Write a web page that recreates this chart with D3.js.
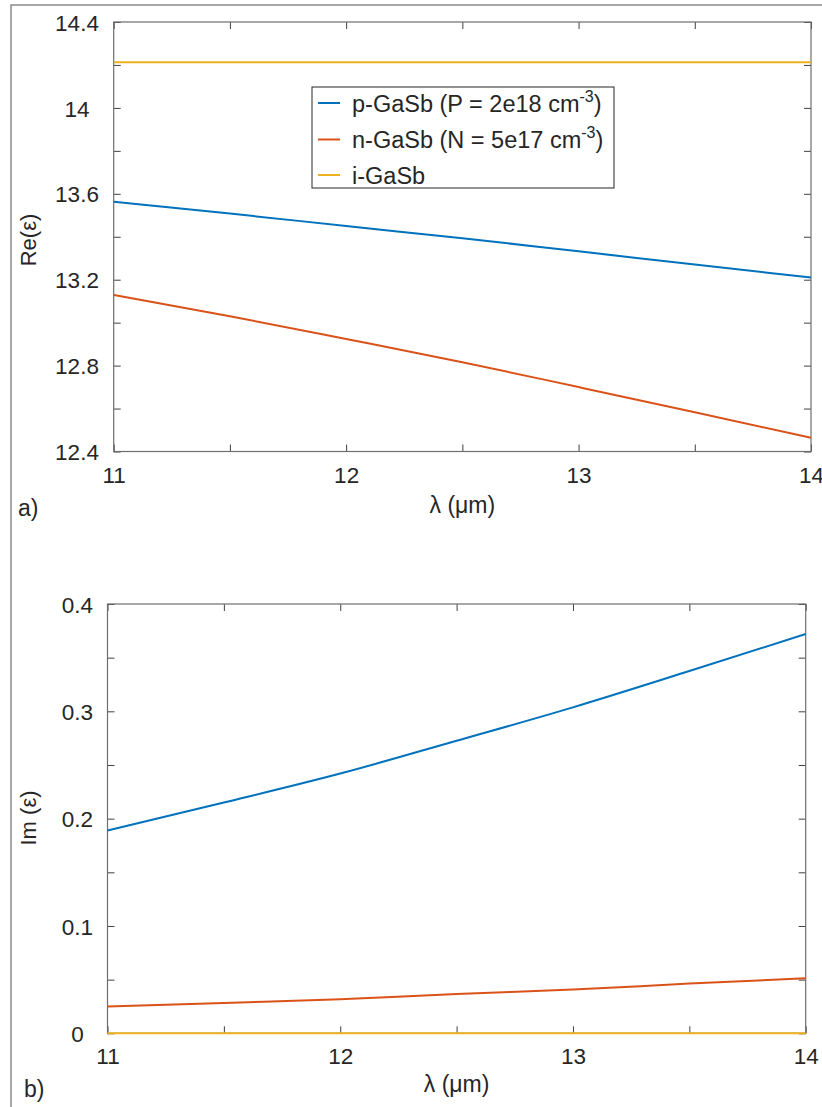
<!DOCTYPE html>
<html>
<head>
<meta charset="utf-8">
<script src="https://cdn.jsdelivr.net/npm/d3@7"></script>
<style>
  html, body { margin: 0; padding: 0; background: #fff; }
  svg { display: block; }
  text { font-family: "Liberation Sans", Arial, Helvetica, sans-serif; fill: #262626; }
</style>
</head>
<body>
<svg id="chart" width="822" height="1107"></svg>
<script>
// ---- data ----
const wavelength = [11, 11.5, 12, 12.5, 13, 13.5, 14];
const seriesNames = ["p-GaSb (P = 2e18 cm", "n-GaSb (N = 5e17 cm", "i-GaSb"];
const seriesColors = ["#0072BD", "#D95319", "#EDB120"];
const reP = [13.563, 13.508, 13.450, 13.393, 13.332, 13.271, 13.210];
const reN = [13.129, 13.030, 12.924, 12.816, 12.700, 12.583, 12.464];
const reI = [14.213, 14.213, 14.213, 14.213, 14.213, 14.213, 14.213];
const imP = [0.189, 0.215, 0.242, 0.2726, 0.3037, 0.3375, 0.372];
const imN = [0.0249, 0.0283, 0.0317, 0.0367, 0.0407, 0.0463, 0.0513];
const imI = [0, 0, 0, 0, 0, 0, 0];
const xTicks = [11, 11.5, 12, 12.5, 13, 13.5, 14];
const xLabels = [11, 12, 13, 14];
const reTicks = [12.4, 12.6, 12.8, 13.0, 13.2, 13.4, 13.6, 13.8, 14.0, 14.2, 14.4];
const reLabels = [12.4, 12.8, 13.2, 13.6, 14.0, 14.4];
const imTicks = [0, 0.05, 0.1, 0.15, 0.2, 0.25, 0.3, 0.35, 0.4];
const imLabels = [0, 0.1, 0.2, 0.3, 0.4];

const svg = d3.select("#chart");

// outer frame
svg.append("path").attr("d", "M11,1107 L11,5 L822,5")
  .attr("fill", "none").attr("stroke", "#8a8a8a").attr("stroke-width", 1.5);

function isLabel(v, labels) { return labels.some(l => Math.abs(l - v) < 1e-9); }

function panel(cfg) {
  const x = d3.scaleLinear().domain([11, 14]).range([cfg.left, cfg.right]);
  const y = d3.scaleLinear().domain(cfg.ydom).range([cfg.bottom, cfg.top]);
  const g = svg.append("g");

  const ax = g.append("g").attr("transform", `translate(0,${cfg.bottom})`)
    .call(d3.axisBottom(x).tickValues(xTicks).tickSize(-7).tickSizeOuter(0).tickPadding(cfg.xpad)
      .tickFormat(v => isLabel(v, xLabels) ? d3.format("d")(v) : ""));
  const axT = g.append("g").attr("transform", `translate(0,${cfg.top})`)
    .call(d3.axisTop(x).tickValues(xTicks).tickSize(-7).tickSizeOuter(0).tickFormat(""));
  const ay = g.append("g").attr("transform", `translate(${cfg.left},0)`)
    .call(d3.axisLeft(y).tickValues(cfg.yticks).tickSize(-7).tickSizeOuter(0)
      .tickFormat(v => isLabel(v, cfg.ylabels) ? cfg.yfmt(v) : ""));
  const ayR = g.append("g").attr("transform", `translate(${cfg.right},0)`)
    .call(d3.axisRight(y).tickValues(cfg.yticks).tickSize(-7).tickSizeOuter(0).tickFormat(""));

  [ax, axT, ay, ayR].forEach(a => {
    a.select(".domain").remove();
    a.selectAll(".tick line").attr("stroke", "#404040").attr("stroke-width", 1);
    a.selectAll("text").style("font-size", "22.5px").attr("fill", "#262626")
      .style("font-family", '"Liberation Sans", Arial, sans-serif');
  });
  ay.selectAll("text").attr("text-anchor", "middle").attr("x", cfg.ylabelX - cfg.left).attr("dy", "0.36em");

  g.append("rect").attr("x", cfg.left).attr("y", cfg.top)
    .attr("width", cfg.right - cfg.left).attr("height", cfg.bottom - cfg.top)
    .attr("fill", "none").attr("stroke", "#6e6e6e").attr("stroke-width", 1.2);

  const line = d3.line().x((d, i) => x(wavelength[i])).y(d => y(d)).curve(d3.curveMonotoneX);
  cfg.series.forEach((s, i) => {
    g.append("path").datum(s).attr("d", line)
      .attr("fill", "none").attr("stroke", seriesColors[i]).attr("stroke-width", 2);
  });

  g.append("text").attr("x", (cfg.left + cfg.right) / 2).attr("y", cfg.xtitleY)
    .attr("text-anchor", "middle").style("font-size", "23px").text("λ (μm)");
  g.append("text").attr("transform", `translate(${cfg.ytitleX},${cfg.ytitleY}) rotate(-90)`)
    .attr("text-anchor", "middle").style("font-size", "22px").text(cfg.ytitle);
  g.append("text").attr("x", cfg.tagX).attr("y", cfg.tagY).style("font-size", "23px").text(cfg.tag);
  return { x, y, g };
}

panel({
  left: 113.7, right: 811, top: 22, bottom: 451.5,
  ydom: [12.4, 14.4], yticks: reTicks, ylabels: reLabels,
  yfmt: v => (Math.abs(v - Math.round(v)) < 1e-9 ? d3.format("d")(v) : d3.format(".1f")(v)),
  ylabelX: 77, xpad: 15.5,
  series: [reP, reN, reI],
  xtitleY: 513, ytitleX: 36, ytitleY: 240, ytitle: "Re(ε)",
  tag: "a)", tagX: 18, tagY: 516
});

panel({
  left: 107.5, right: 805.7, top: 604, bottom: 1033.3,
  ydom: [0, 0.4], yticks: imTicks, ylabels: imLabels,
  yfmt: v => (v === 0 ? "0" : d3.format(".1f")(v)),
  ylabelX: 77.5, xpad: 15,
  series: [imP, imN, imI],
  xtitleY: 1092, ytitleX: 36, ytitleY: 818, ytitle: "Im (ε)",
  tag: "b)", tagX: 24, tagY: 1097
});

// legend
const leg = svg.append("g");
leg.append("rect").attr("x", 312).attr("y", 87).attr("width", 302).attr("height", 101)
  .attr("fill", "#fff").attr("stroke", "#262626").attr("stroke-width", 1);
const rowY = [103, 139.5, 175];
seriesNames.forEach((name, i) => {
  leg.append("line").attr("x1", 318).attr("x2", 340).attr("y1", rowY[i]).attr("y2", rowY[i])
    .attr("stroke", seriesColors[i]).attr("stroke-width", 2);
  const t = leg.append("text").attr("x", 352).attr("y", rowY[i] + 8.5).style("font-size", "23.5px");
  t.append("tspan").text(name);
  if (i < 2) {
    t.append("tspan").attr("dy", -10).style("font-size", "16px").text("-3");
    t.append("tspan").attr("dy", 10).text(")");
  }
});
</script>
</body>
</html>
